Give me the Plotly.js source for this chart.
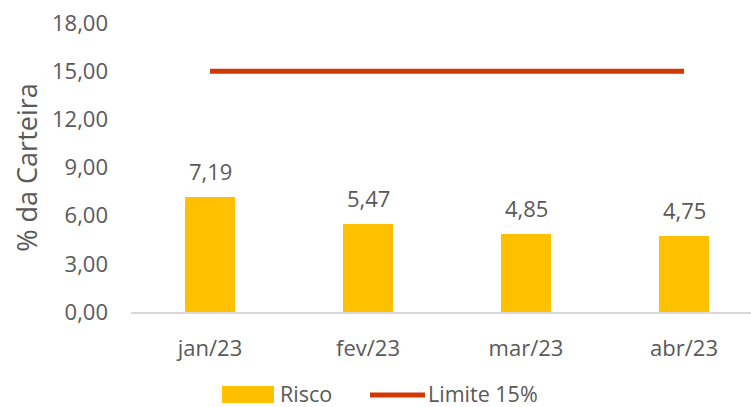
<!DOCTYPE html>
<html>
<head>
<meta charset="utf-8">
<script src="https://cdn.plot.ly/plotly-3.0.1.min.js"></script>
<style>html,body{margin:0;padding:0;background:#fff;}#chart{width:751px;height:407px;}</style>
</head>
<body>
<div id="chart"></div>
<script>
const categories = ['jan/23', 'fev/23', 'mar/23', 'abr/23'];
const risco = [7.19, 5.47, 4.85, 4.75];
const limite = [15, 15, 15, 15];
const seriesNames = ['Risco', 'Limite 15%'];
const yTicks = [0, 3, 6, 9, 12, 15, 18];
const yTitle = '% da Carteira';

const BAR = '#FFC000';
const LINE = '#D03A00';
const TXT = '#595959';
const FONT = 'Open Sans, sans-serif';

const fmt = v => v.toFixed(2).replace('.', ',');

const traces = [
  {type: 'bar', x: categories, y: risco, name: seriesNames[0], marker: {color: BAR}, width: 0.316, showlegend: false, hoverinfo: 'skip'},
  {type: 'scatter', mode: 'lines', x: categories, y: limite, name: seriesNames[1], line: {color: LINE, width: 5}, showlegend: false, hoverinfo: 'skip'}
];

const annotations = categories.map((c, i) => ({
  x: c, y: risco[i], xref: 'x', yref: 'y', text: fmt(risco[i]), showarrow: false,
  yanchor: 'bottom', yshift: 9, font: {family: FONT, size: 22, color: TXT}
}));

// custom legend (swatches in paper coords)
const py = v => (312 - v) / 289;
const px = v => (v - 131) / 620;
const legC = 393.5;
const shapes = [
  {type: 'rect', xref: 'paper', yref: 'paper', x0: px(222), x1: px(274), y0: py(403), y1: py(386), fillcolor: BAR, line: {width: 0}},
  {type: 'line', xref: 'paper', yref: 'paper', x0: px(370), x1: px(425), y0: py(395), y1: py(395), line: {color: LINE, width: 5}}
];
annotations.push(
  {xref: 'paper', yref: 'paper', x: px(278), y: py(legC), xanchor: 'left', yanchor: 'middle', text: seriesNames[0], showarrow: false, font: {family: FONT, size: 21.5, color: TXT}},
  {xref: 'paper', yref: 'paper', x: px(426), y: py(legC), xanchor: 'left', yanchor: 'middle', text: seriesNames[1], showarrow: false, font: {family: FONT, size: 21.5, color: TXT}}
);

const layout = {
  width: 751, height: 407,
  margin: {l: 131, r: 0, t: 23, b: 95, pad: 0},
  paper_bgcolor: '#fff', plot_bgcolor: '#fff',
  separators: ',.',
  font: {family: FONT, size: 22, color: TXT},
  showlegend: false,
  xaxis: {
    type: 'category', range: [-0.5, 3.424], showgrid: false, zeroline: false,
    showline: true, linecolor: '#D9D9D9', linewidth: 1.5, ticks: '',
    ticklabelstandoff: 16, tickfont: {family: FONT, size: 22, color: TXT}, fixedrange: true
  },
  yaxis: {
    range: [0, 18], tickvals: yTicks, tickformat: '.2f', showgrid: false, zeroline: false,
    showline: false, ticks: '', ticklabelstandoff: 22,
    tickfont: {family: FONT, size: 22, color: TXT},
    title: {text: yTitle, font: {family: FONT, size: 27, color: TXT}, standoff: 6}, fixedrange: true
  },
  bargap: 0,
  annotations: annotations,
  shapes: shapes
};

Plotly.newPlot('chart', traces, layout, {displayModeBar: false, staticPlot: true});
</script>
</body>
</html>
